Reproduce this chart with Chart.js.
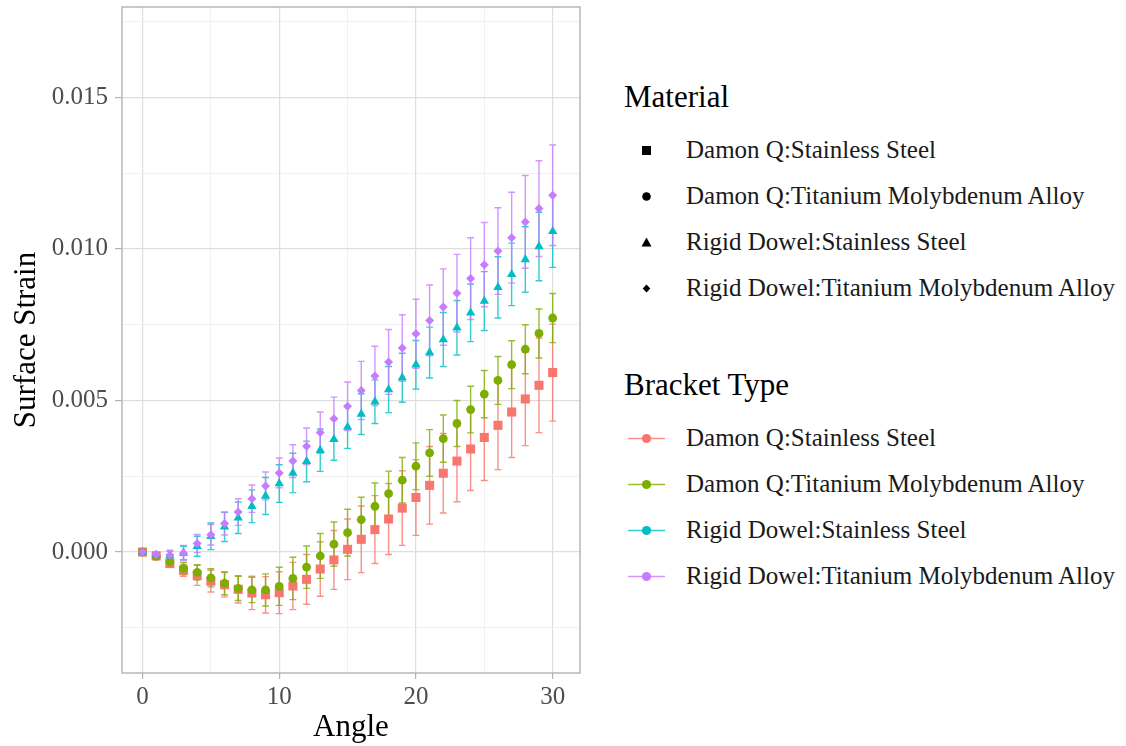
<!DOCTYPE html>
<html>
<head>
<meta charset="utf-8">
<script src="https://cdn.jsdelivr.net/npm/chart.js@4"></script>
<style>
  body { margin: 0; background: #fff; font-family: "Liberation Serif", "Times New Roman", serif; }
  #wrap { position: relative; width: 1126px; height: 746px; }
  #grafico { position: absolute; left: 0; top: 0; }
  .leg-title { position: absolute; left: 624px; font-size: 31px; line-height: 36px; color: #000; white-space: nowrap; }
  .leg-item { position: absolute; left: 628px; height: 30px; line-height: 30px; font-size: 25px; color: #1a1a1a; white-space: nowrap; }
  .leg-item svg { position: absolute; left: 0; top: 0; }
  .leg-item span { position: absolute; left: 58px; top: 0; }
</style>
</head>
<body>
<div id="wrap">
  <canvas id="grafico" width="600" height="746"></canvas>
  <div id="legenda"></div>
</div>
<script>
// angulo (graus)
const angulos = [0, 1, 2, 3, 4, 5, 6, 7, 8, 9, 10, 11, 12, 13, 14, 15, 16, 17, 18, 19, 20, 21, 22, 23, 24, 25, 26, 27, 28, 29, 30];

const grupos = [
    'Damon Q:Stainless Steel',
    'Damon Q:Titanium Molybdenum Alloy',
    'Rigid Dowel:Stainless Steel',
    'Rigid Dowel:Titanium Molybdenum Alloy'
];

// media da deformacao superficial
const mediaDamonSS = [0, -0.00013, -0.00038, -0.0006, -0.00077, -0.00096, -0.00108, -0.00123, -0.00135, -0.00141, -0.00134, -0.00112, -0.0009, -0.00056, -0.00026, 0.00009, 0.00042, 0.00074, 0.00109, 0.00145, 0.0018, 0.0022, 0.0026, 0.003, 0.0034, 0.00378, 0.00418, 0.00462, 0.00505, 0.0055, 0.00592];
const mediaDamonTMA = [0, -0.00014, -0.00032, -0.00054, -0.00067, -0.00085, -0.00103, -0.0012, -0.00125, -0.00125, -0.00113, -0.00087, -0.0005, -0.00013, 0.00026, 0.00064, 0.00107, 0.00151, 0.00193, 0.00237, 0.00283, 0.00327, 0.00374, 0.00424, 0.0047, 0.00521, 0.00566, 0.00618, 0.00669, 0.00721, 0.00772];
const mediaRigidSS = [0, -0.0001, -0.00012, -0.00003, 0.00019, 0.00052, 0.00083, 0.00113, 0.00151, 0.00185, 0.00226, 0.00261, 0.00299, 0.00336, 0.00372, 0.00412, 0.00455, 0.00496, 0.00536, 0.00575, 0.00618, 0.00658, 0.00701, 0.0074, 0.00789, 0.00828, 0.00873, 0.00916, 0.00965, 0.01008, 0.01058];
const mediaRigidTMA = [0, -0.00008, -0.0001, -0.00003, 0.00028, 0.00057, 0.00094, 0.00132, 0.00176, 0.00218, 0.00261, 0.003, 0.00349, 0.00394, 0.0044, 0.00481, 0.00533, 0.00581, 0.00627, 0.00673, 0.0072, 0.00764, 0.00808, 0.00854, 0.00902, 0.00948, 0.00993, 0.01037, 0.01089, 0.01133, 0.01177];

// desvio padrao (barras de erro)
const dpDamonSS = [0, 0.00005, 0.00012, 0.0002, 0.00033, 0.00036, 0.0004, 0.00045, 0.00055, 0.0006, 0.00069, 0.00078, 0.00082, 0.0009, 0.00097, 0.001, 0.0011, 0.00112, 0.00117, 0.00123, 0.00125, 0.00128, 0.00131, 0.00134, 0.00137, 0.00142, 0.00146, 0.0015, 0.00154, 0.00156, 0.0016];
const dpDamonTMA = [0, 0.00008, 0.00015, 0.0002, 0.00025, 0.0003, 0.00038, 0.0004, 0.00042, 0.00053, 0.00063, 0.0007, 0.0007, 0.00074, 0.00073, 0.00077, 0.00074, 0.00077, 0.00074, 0.00075, 0.00077, 0.00077, 0.00078, 0.00076, 0.00077, 0.00078, 0.00079, 0.00079, 0.00081, 0.00081, 0.00081];
const dpRigidSS = [0, 0.00005, 0.00015, 0.00022, 0.00033, 0.00044, 0.00048, 0.00052, 0.00054, 0.00061, 0.00062, 0.00065, 0.00067, 0.0007, 0.00069, 0.0007, 0.00067, 0.00072, 0.00076, 0.00081, 0.0008, 0.00084, 0.00089, 0.0009, 0.00095, 0.00097, 0.00101, 0.00103, 0.00108, 0.00113, 0.00119];
const dpRigidTMA = [0, 0.00008, 0.00016, 0.00025, 0.0003, 0.00034, 0.00038, 0.00044, 0.00045, 0.00046, 0.00049, 0.00054, 0.0006, 0.00068, 0.00071, 0.0008, 0.00096, 0.00098, 0.00107, 0.0011, 0.00114, 0.00117, 0.00126, 0.00128, 0.00135, 0.00139, 0.00143, 0.0015, 0.00153, 0.00158, 0.00166];

// eixos: linhas de grade (principais e secundarias) e rotulos
const gradeX = [0, 5, 10, 15, 20, 25, 30];
const ticksX = [0, 10, 20, 30];
const rotulosX = ['0', '10', '20', '30'];
const gradeY = [-0.0025, 0, 0.0025, 0.005, 0.0075, 0.01, 0.0125, 0.015, 0.0175];
const ticksY = [0, 0.005, 0.01, 0.015];
const rotulosY = ['0.000', '0.005', '0.010', '0.015'];

const cores = ['#F8766D', '#7CAE00', '#00BFC4', '#C77CFF'];
const coresErro = ['rgba(248,118,109,0.8)', 'rgba(124,174,0,0.8)', 'rgba(0,191,196,0.8)', 'rgba(199,124,255,0.8)'];
const formas = ['rect', 'circle', 'triangle', 'rectRot'];
const raios = [6.4, 4.4, 5.4, 4.5];

const medias = [mediaDamonSS, mediaDamonTMA, mediaRigidSS, mediaRigidTMA];
const desvios = [dpDamonSS, dpDamonTMA, dpRigidSS, dpRigidTMA];

const fonte = '"Liberation Serif", "Times New Roman", serif';

function ehPrincipal(v, lista) {
    return lista.some(t => Math.abs(t - v) < 1e-9);
}

// barras de erro desenhadas antes dos pontos
const barrasErro = {
    id: 'barrasErro',
    beforeDatasetsDraw(chart) {
        const ctx = chart.ctx;
        const sx = chart.scales.x;
        const sy = chart.scales.y;
        ctx.save();
        ctx.lineWidth = 1.4;
        chart.data.datasets.forEach((ds, i) => {
            ctx.strokeStyle = coresErro[i];
            ds.data.forEach((p, j) => {
                const e = ds.erros[j];
                const x = sx.getPixelForValue(p.x);
                const xa = sx.getPixelForValue(p.x - 0.25);
                const xb = sx.getPixelForValue(p.x + 0.25);
                const ya = sy.getPixelForValue(p.y - e);
                const yb = sy.getPixelForValue(p.y + e);
                ctx.beginPath();
                ctx.moveTo(x, ya); ctx.lineTo(x, yb);
                ctx.moveTo(xa, ya); ctx.lineTo(xb, ya);
                ctx.moveTo(xa, yb); ctx.lineTo(xb, yb);
                ctx.stroke();
            });
        });
        ctx.restore();
    }
};

// moldura do painel
const moldura = {
    id: 'moldura',
    afterDatasetsDraw(chart) {
        const a = chart.chartArea;
        const ctx = chart.ctx;
        ctx.save();
        ctx.strokeStyle = '#B3B3B3';
        ctx.lineWidth = 1.4;
        ctx.strokeRect(a.left, a.top, a.right - a.left, a.bottom - a.top);
        ctx.restore();
    }
};

const datasets = grupos.map((g, i) => ({
    label: g,
    data: angulos.map((a, j) => ({ x: a, y: medias[i][j] })),
    erros: desvios[i],
    showLine: false,
    pointStyle: formas[i],
    pointRadius: raios[i],
    pointBackgroundColor: cores[i],
    pointBorderWidth: 0,
    order: grupos.length - 1 - i
}));

new Chart(document.getElementById('grafico'), {
    type: 'scatter',
    data: { datasets },
    options: {
        responsive: false,
        animation: false,
        events: [],
        layout: { padding: { top: 7, right: 20, left: 0, bottom: 0 } },
        plugins: { legend: { display: false }, tooltip: { enabled: false } },
        scales: {
            x: {
                type: 'linear',
                min: -1.5,
                max: 32,
                afterBuildTicks: s => { s.ticks = gradeX.map(v => ({ value: v })); },
                afterFit: s => { s.height = 73; s.paddingLeft = 0; s.paddingRight = 0; },
                ticks: {
                    autoSkip: false,
                    maxRotation: 0,
                    padding: 3,
                    color: '#4D4D4D',
                    font: { family: fonte, size: 25 },
                    callback: v => {
                        const k = ticksX.findIndex(t => Math.abs(t - v) < 1e-9);
                        return k >= 0 ? rotulosX[k] : '';
                    }
                },
                grid: {
                    color: c => ehPrincipal(c.tick.value, ticksX) ? '#DEDEDE' : '#EDEDED',
                    lineWidth: c => ehPrincipal(c.tick.value, ticksX) ? 1.2 : 0.8,
                    tickColor: c => ehPrincipal(c.tick.value, ticksX) ? '#B3B3B3' : 'rgba(0,0,0,0)',
                    tickLength: 6,
                    tickWidth: 1.2
                },
                border: { display: false },
                title: {
                    display: true,
                    text: 'Angle',
                    color: '#000',
                    font: { family: fonte, size: 31, lineHeight: 1 },
                    padding: { top: 0, bottom: 3 }
                }
            },
            y: {
                type: 'linear',
                min: -0.00399,
                max: 0.01798,
                afterBuildTicks: s => { s.ticks = gradeY.map(v => ({ value: v })); },
                afterFit: s => { s.width = 122; s.paddingTop = 0; s.paddingBottom = 0; },
                ticks: {
                    padding: 7,
                    color: '#4D4D4D',
                    font: { family: fonte, size: 25 },
                    callback: v => {
                        const k = ticksY.findIndex(t => Math.abs(t - v) < 1e-9);
                        return k >= 0 ? rotulosY[k] : '';
                    }
                },
                grid: {
                    color: c => ehPrincipal(c.tick.value, ticksY) ? '#DEDEDE' : '#EDEDED',
                    lineWidth: c => ehPrincipal(c.tick.value, ticksY) ? 1.2 : 0.8,
                    tickColor: c => ehPrincipal(c.tick.value, ticksY) ? '#B3B3B3' : 'rgba(0,0,0,0)',
                    tickLength: 7,
                    tickWidth: 1.2
                },
                border: { display: false },
                title: {
                    display: true,
                    text: 'Surface Strain',
                    color: '#000',
                    font: { family: fonte, size: 31, lineHeight: 1 },
                    padding: { top: 11, bottom: 0 }
                }
            }
        }
    },
    plugins: [barrasErro, moldura]
});

// legendas: forma (Material) e cor (Bracket Type)
const simbolos = [
    '<rect x="14" y="11" width="9" height="9" fill="#000"/>',
    '<circle cx="18.5" cy="15.5" r="4.3" fill="#000"/>',
    '<polygon points="18.5,10.5 23.5,19.5 13.5,19.5" fill="#000"/>',
    '<polygon points="18.5,11.5 22.3,15.5 18.5,19.5 14.7,15.5" fill="#000"/>'
];

function montarLegenda() {
    const alvo = document.getElementById('legenda');
    let html = '';
    html += '<div class="leg-title" style="top:79px">Material</div>';
    grupos.forEach((g, i) => {
        const top = 135 + i * 46;
        html += `<div class="leg-item" style="top:${top}px"><svg width="40" height="30">${simbolos[i]}</svg><span>${g}</span></div>`;
    });
    html += '<div class="leg-title" style="top:367px">Bracket Type</div>';
    grupos.forEach((g, i) => {
        const top = 423 + i * 46;
        html += `<div class="leg-item" style="top:${top}px"><svg width="40" height="30">` +
            `<line x1="0" y1="15.5" x2="37" y2="15.5" stroke="${coresErro[i]}" stroke-width="1.4"/>` +
            `<circle cx="18.5" cy="15.5" r="4.6" fill="${cores[i]}"/></svg><span>${g}</span></div>`;
    });
    alvo.innerHTML = html;
}

montarLegenda();
</script>
</body>
</html>
